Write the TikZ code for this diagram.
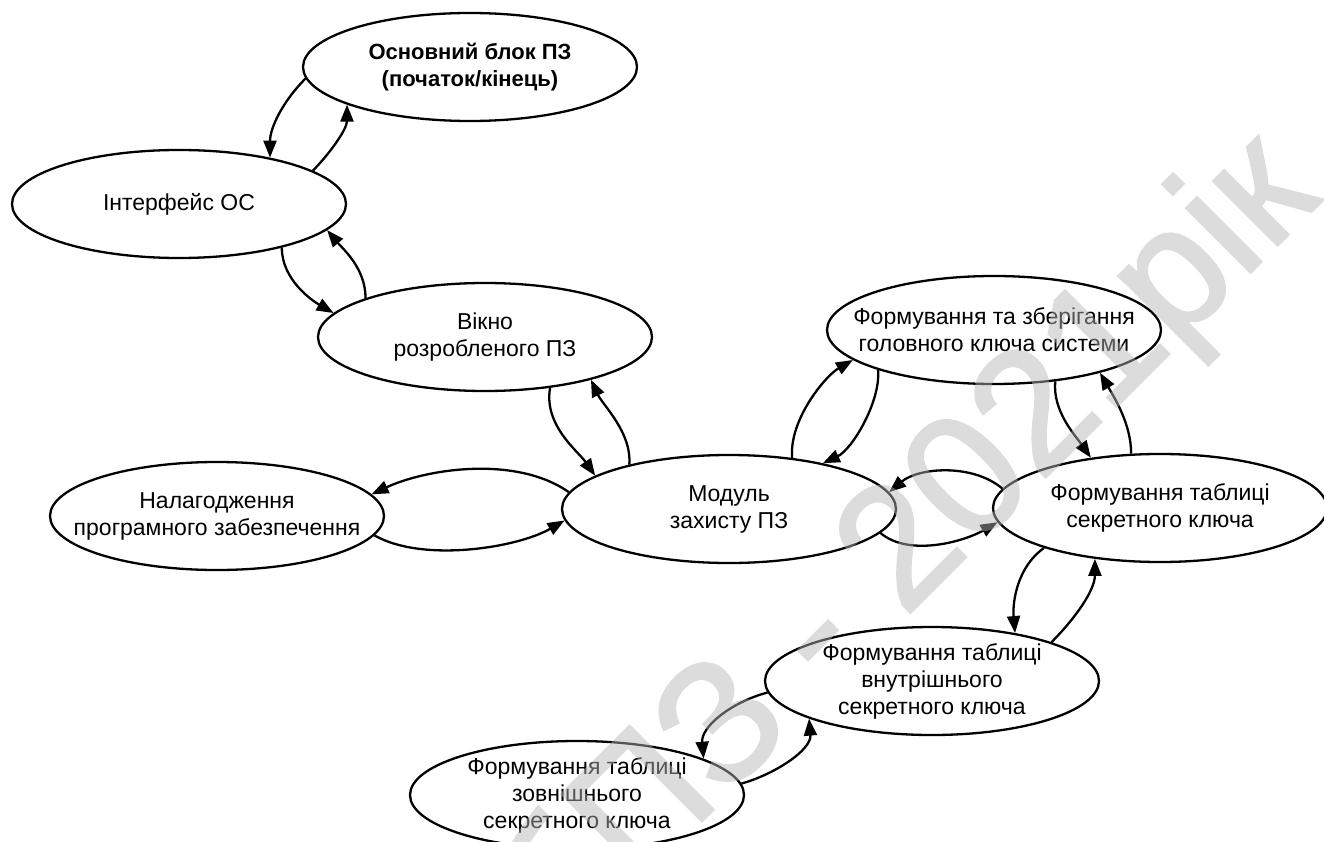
\documentclass[tikz,border=0pt]{standalone}
\usepackage{fontspec}
\setmainfont{Liberation Sans}
\newfontfamily\stampfont[FakeBold=1.5]{Liberation Sans}
\usetikzlibrary{shapes.geometric,arrows.meta}
\definecolor{wmgray}{RGB}{181,181,181}
\begin{document}
\begin{tikzpicture}[x=1pt,y=-1pt,
  blk/.style={ellipse, draw, line width=2.3pt, minimum width=334pt, minimum height=108pt,
    inner sep=0pt, fill=white},
  lbl/.style={align=center, inner sep=0pt, font=\fontsize{23}{27}\selectfont},
  head/.style={lbl, font=\bfseries\fontsize{22}{27}\selectfont},
  link/.style={line width=2.3pt, -{Triangle[length=17pt,width=13pt]}},
  stamp/.style={rotate=45, text=wmgray, font=\stampfont\fontsize{172}{172}\selectfont,
    inner sep=0pt, anchor=base east},
]
\useasboundingbox (0,0) rectangle (1324,842);

% block outlines
\node[blk] (main) at (470,67)   {};
\node[blk] (os)   at (179,204)  {};
\node[blk] (win)  at (485,337)  {};
\node[blk] (dbg)  at (217,516)  {};
\node[blk] (prot) at (729,509)  {};
\node[blk] (mkey) at (994,330)  {};
\node[blk] (skey) at (1160,508) {};
\node[blk] (ikey) at (932,681)  {};
\node[blk] (xkey) at (577,795)  {};

% block captions
\node[head] (main-t) at (main) {Основний блок ПЗ\\(початок/кінець)};
\node[lbl] (os-t)   at (os)   {Інтерфейс ОС};
\node[lbl] (win-t)  at (win)  {Вікно\\розробленого ПЗ};
\node[lbl] (dbg-t)  at (dbg)  {Налагодження\\програмного забезпечення};
\node[lbl] (prot-t) at (prot) {Модуль\\захисту ПЗ};
\node[lbl] (mkey-t) at (mkey) {Формування та зберігання\\головного ключа системи};
\node[lbl] (skey-t) at (skey) {Формування таблиці\\секретного ключа};
\node[lbl] (ikey-t) at (ikey) {Формування таблиці\\внутрішнього\\секретного ключа};
\node[lbl] (xkey-t) at (xkey) {Формування таблиці\\зовнішнього\\секретного ключа};

% links between blocks
\draw[link] (main.184) .. controls +(225:32pt) and +(90:30pt) .. (os.27);
\draw[link] (os.14)    .. controls +(45:22pt)  and +(-90:25pt) .. (main.197);
\draw[link] (os.337)   .. controls +(-90:32pt) and +(150:25pt) .. (win.171);
\draw[link] (win.162)  .. controls +(90:30pt)  and +(-50:25pt) .. (os.350);
\draw[link] (win.322)  .. controls +(-100:38pt) and +(125:30pt) .. (prot.166);
\draw[link] (prot.156) .. controls +(85:32pt)  and +(-65:28pt) .. (win.338);
\draw[link] (prot.174) .. controls +(145:65pt) and +(25:60pt) .. (dbg.8);
\draw[link] (dbg.353)  .. controls +(-30:55pt) and +(210:55pt) .. (prot.184);
\draw[link] (prot.39)  .. controls +(95:38pt)  and +(210:32pt) .. (mkey.192);
\draw[link] (mkey.199) .. controls +(-85:32pt) and +(25:32pt) .. (prot.26);
\draw[link] (mkey.320) .. controls +(-95:30pt) and +(125:28pt) .. (skey.144);
\draw[link] (skey.118) .. controls +(90:30pt)  and +(-60:28pt) .. (mkey.338);
\draw[link] (skey.173) .. controls +(140:40pt) and +(40:38pt) .. (prot.6);
\draw[link] (prot.351) .. controls +(-40:38pt) and +(210:38pt) .. (skey.185);
\draw[link] (skey.199) .. controls +(215:32pt) and +(95:32pt) .. (ikey.30);
\draw[link] (ikey.18)  .. controls +(45:32pt)  and +(-90:32pt) .. (skey.218);
\draw[link] (ikey.184) .. controls +(195:38pt) and +(95:32pt) .. (xkey.16);
\draw[link] (xkey.4)   .. controls +(15:32pt)  and +(-85:32pt) .. (ikey.197);

% stamp across the sheet, flattened before blending
\begin{scope}[transparency group, opacity=0.47]
  \node[stamp] (wm) at (1323,200) {бПЗ - 2021рік};
\end{scope}
\end{tikzpicture}
\end{document}
